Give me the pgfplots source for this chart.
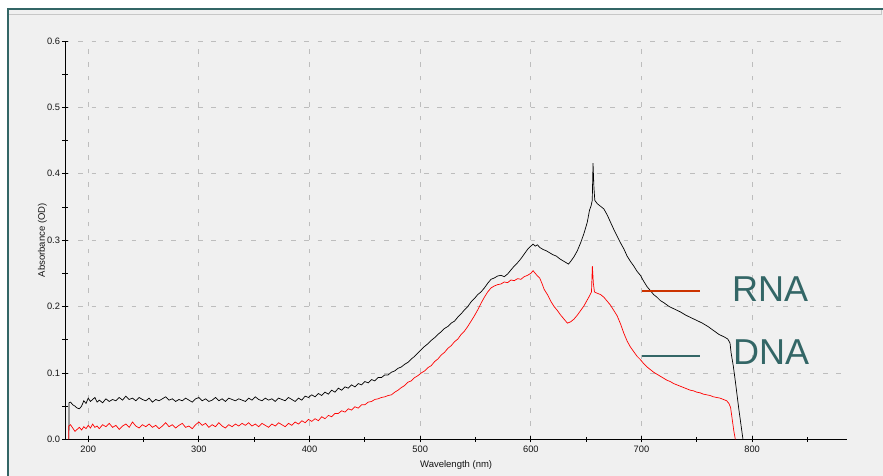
\documentclass[border=0pt]{standalone}
\usepackage{fontspec}
\setmainfont{Liberation Sans}
\usepackage{pgfplots}
\pgfplotsset{compat=1.18}
\definecolor{bgc}{HTML}{F0F0F0}
\definecolor{frameteal}{HTML}{336666}
\definecolor{rnaline}{HTML}{CC3300}
\definecolor{gridc}{HTML}{BDBDBD}
\definecolor{dnaline}{HTML}{336666}
\begin{document}
\begin{tikzpicture}[x=1pt,y=1pt]
\path[use as bounding box] (0,0) rectangle (883,476);
\fill[white] (0,0) rectangle (883,476);
\fill[bgc] (8,0) rectangle (883,467);
\draw[black!22, line width=1pt] (9,461) -- (881.5,461) -- (881.5,467);
\draw[frameteal, line width=2pt] (8,0) -- (8,467) -- (883,467);
\begin{axis}[
  at={(65pt,36.7pt)}, anchor=south west,
  scale only axis, width=782.3pt, height=398.3pt,
  xmin=179, xmax=886, ymin=0, ymax=0.6,
  axis x line*=bottom, axis y line*=left,
  axis line style={black, line width=0.9pt},
  xtick={200,300,...,800}, minor xtick={250,350,...,850},
  ytick={0,0.1,...,0.6}, minor ytick={0.05,0.15,...,0.55},
  grid=major,
  major grid style={gridc, dash pattern=on 4.5pt off 8.8pt, line width=0.8pt},
  tick align=center, major tick length=6pt, minor tick length=5pt,
  tick style={black, line width=0.8pt},
  /pgf/number format/assume math mode=true,
  yticklabel style={/pgf/number format/fixed, /pgf/number format/fixed zerofill, /pgf/number format/precision=1, xshift=1.5pt},
  tick label style={font=\fontsize{9.3}{10}\selectfont, text=black!92},
  xlabel={Wavelength (nm)}, ylabel={Absorbance (OD)},
  label style={font=\fontsize{9.5}{11}\selectfont, text=black!92},
  xlabel style={at={(axis description cs:0.5,-0.0653)}, anchor=center},
  ylabel style={at={(axis description cs:-0.0288,0.5)}, anchor=center},
  clip=true,
]
\addplot[black, line width=0.7pt] table {
182.5 0.000
182.6 0.055
184 0.056
186 0.052
188 0.050
190 0.047
192 0.046
194 0.050
196 0.058
198 0.054
200 0.062
202 0.057
204 0.060
206 0.063
208 0.056
210 0.059
213 0.055
216 0.061
219 0.057
222 0.060
225 0.058
228 0.063
231 0.059
234 0.065
237 0.060
240 0.062
243 0.058
246 0.063
249 0.060
252 0.058
255 0.062
258 0.056
261 0.060
264 0.058
267 0.061
270 0.064
273 0.059
276 0.061
279 0.057
282 0.060
285 0.058
288 0.062
291 0.059
294 0.056
297 0.061
300 0.063
303 0.058
306 0.061
309 0.057
312 0.059
315 0.063
318 0.058
321 0.061
324 0.057
327 0.062
330 0.060
333 0.058
336 0.061
339 0.059
342 0.057
345 0.062
348 0.059
351 0.064
354 0.060
357 0.058
360 0.062
363 0.059
366 0.061
369 0.057
372 0.062
375 0.060
378 0.058
381 0.063
384 0.060
387 0.057
390 0.062
393 0.059
396 0.065
399 0.063
402 0.067
405 0.064
408 0.069
411 0.066
414 0.071
417 0.068
420 0.074
423 0.071
426 0.077
429 0.074
432 0.079
435 0.077
438 0.082
441 0.079
444 0.084
447 0.082
450 0.087
453 0.085
456 0.090
459 0.088
462 0.093
465 0.093
468 0.097
471 0.097
474 0.101
477 0.103
480 0.107
483 0.109
486 0.113
489 0.116
492 0.121
495 0.125
498 0.130
501 0.135
504 0.140
507 0.144
510 0.149
513 0.153
516 0.158
519 0.162
522 0.167
525 0.170
528 0.175
531 0.178
534 0.184
537 0.189
540 0.195
543 0.200
546 0.207
549 0.212
552 0.218
555 0.222
558 0.228
561 0.235
564 0.241
567 0.243
570 0.246
573 0.247
576 0.245
579 0.249
582 0.255
585 0.261
588 0.266
591 0.272
594 0.279
597 0.286
600 0.291
602 0.294
604 0.291
606 0.293
608 0.289
611 0.286
614 0.284
617 0.281
620 0.278
623 0.276
626 0.272
629 0.269
632 0.266
634 0.264
636 0.268
639 0.275
642 0.284
645 0.296
648 0.310
651 0.327
653 0.345
654.5 0.352
655.5 0.360
656.2 0.416
657 0.380
657.8 0.360
660 0.355
663 0.351
666 0.347
669 0.338
672 0.327
675 0.316
678 0.306
681 0.296
684 0.287
687 0.276
690 0.268
693 0.261
696 0.253
699 0.247
702 0.238
705 0.230
708 0.224
711 0.218
714 0.214
717 0.209
720 0.206
725 0.200
730 0.196
735 0.192
740 0.187
745 0.183
750 0.179
755 0.175
760 0.170
765 0.164
770 0.158
775 0.154
778 0.151
780 0.145
781 0.130
783 0.110
785 0.085
788 0.045
791.7 0.000
};
\addplot[red, line width=0.7pt] table {
182.3 0.000
182.4 0.020
184 0.022
186 0.017
188 0.012
190 0.015
192 0.018
194 0.014
196 0.019
198 0.016
200 0.021
202 0.017
204 0.023
206 0.018
208 0.020
210 0.016
213 0.022
216 0.019
219 0.024
222 0.018
225 0.021
228 0.015
231 0.020
234 0.023
237 0.018
240 0.026
243 0.020
246 0.017
249 0.022
252 0.019
255 0.023
258 0.018
261 0.021
264 0.016
267 0.020
270 0.025
273 0.019
276 0.022
279 0.017
282 0.021
285 0.024
288 0.018
291 0.020
294 0.016
297 0.022
300 0.026
303 0.021
306 0.024
309 0.018
312 0.022
315 0.019
318 0.025
321 0.020
324 0.017
327 0.022
330 0.019
333 0.023
336 0.020
339 0.024
342 0.021
345 0.025
348 0.020
351 0.023
354 0.019
357 0.024
360 0.021
363 0.018
366 0.023
369 0.020
372 0.025
375 0.022
378 0.019
381 0.024
384 0.021
387 0.026
390 0.023
393 0.028
396 0.025
399 0.030
402 0.027
405 0.031
408 0.028
411 0.034
414 0.031
417 0.036
420 0.034
423 0.039
426 0.039
429 0.043
432 0.041
435 0.046
438 0.044
441 0.049
444 0.047
447 0.052
450 0.052
453 0.056
456 0.057
459 0.060
462 0.061
465 0.063
468 0.064
471 0.066
474 0.067
477 0.071
480 0.074
483 0.078
486 0.081
489 0.086
492 0.088
495 0.093
498 0.096
501 0.100
504 0.103
507 0.108
510 0.111
513 0.117
516 0.121
519 0.127
522 0.131
525 0.137
528 0.141
531 0.147
534 0.151
537 0.158
540 0.163
543 0.170
546 0.178
549 0.186
552 0.195
555 0.205
558 0.214
561 0.222
564 0.228
567 0.231
570 0.233
573 0.234
576 0.237
579 0.236
582 0.240
585 0.239
588 0.242
591 0.241
594 0.245
597 0.247
600 0.250
602 0.254
604 0.250
606 0.246
608 0.243
610 0.235
612 0.226
615 0.218
618 0.208
621 0.200
624 0.194
627 0.187
630 0.181
633 0.175
636 0.177
639 0.181
642 0.187
645 0.194
648 0.201
651 0.210
653 0.216
654.8 0.222
655.6 0.261
656.5 0.235
657.5 0.222
660 0.220
663 0.218
666 0.214
669 0.208
672 0.202
675 0.194
678 0.186
681 0.174
684 0.160
687 0.148
690 0.139
693 0.132
696 0.125
699 0.120
702 0.114
705 0.109
708 0.105
711 0.101
714 0.098
717 0.095
720 0.092
723 0.089
726 0.087
729 0.084
732 0.082
735 0.080
738 0.078
741 0.076
744 0.074
747 0.073
750 0.071
753 0.070
756 0.068
759 0.067
762 0.066
765 0.064
768 0.063
771 0.062
774 0.060
777 0.058
779 0.054
780.5 0.048
782 0.030
783.5 0.012
784.8 0.000
};
\end{axis}
\draw[rnaline, line width=2.6pt] (642,185) -- (700,185);
\draw[dnaline, line width=2.2pt] (642,120.3) -- (700,120.3);
\node[anchor=base west, text=frameteal, font=\fontsize{36}{40}\selectfont, inner sep=0pt] at (732,174.3) {RNA};
\node[anchor=base west, text=frameteal, font=\fontsize{36}{40}\selectfont, inner sep=0pt] at (733,111) {DNA};
\end{tikzpicture}
\end{document}
